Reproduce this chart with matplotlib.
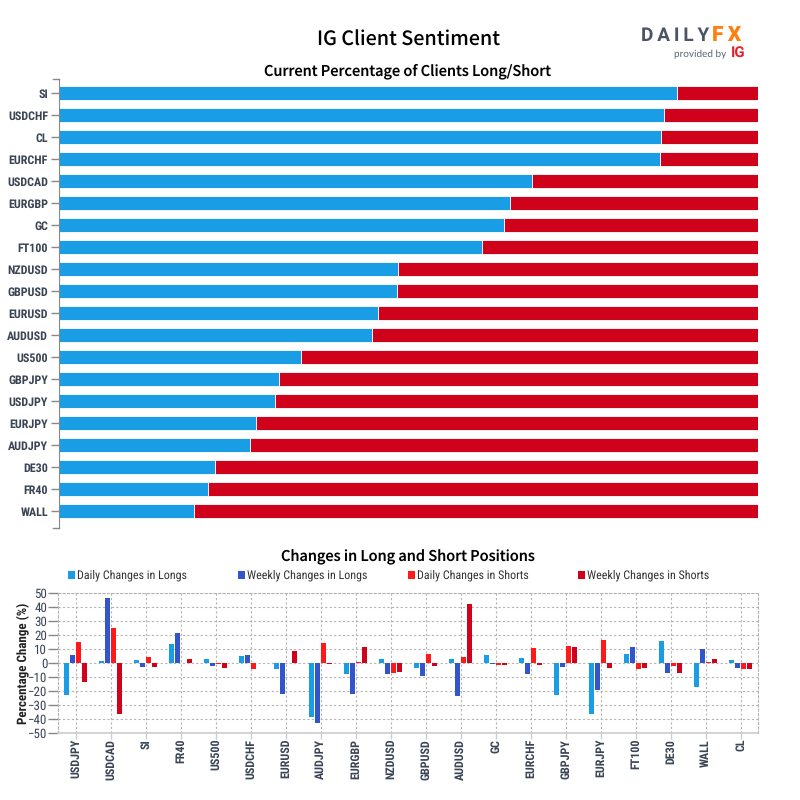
#!/usr/bin/env python3
import numpy as np
import matplotlib
matplotlib.use("Agg")
import matplotlib.pyplot as plt
from matplotlib.patches import Rectangle

# top chart, sorted the way it is drawn (top to bottom)
sent_labels = ["SI", "USDCHF", "CL", "EURCHF", "USDCAD", "EURGBP", "GC", "FT100", "NZDUSD", "GBPUSD",
               "EURUSD", "AUDUSD", "US500", "GBPJPY", "USDJPY", "EURJPY", "AUDJPY", "DE30", "FR40", "WALL"]
pct_long = [88.4, 86.6, 86.2, 86.0, 67.7, 64.6, 63.7, 60.6, 48.6, 48.4,
            45.7, 44.8, 34.7, 31.5, 31.0, 28.3, 27.4, 22.4, 21.4, 19.4]
pct_short = [11.6, 13.4, 13.8, 14.0, 32.3, 35.4, 36.3, 39.4, 51.4, 51.6,
             54.3, 55.2, 65.3, 68.5, 69.0, 71.7, 72.6, 77.6, 78.6, 80.6]

# bottom chart
chg_labels = ["USDJPY", "USDCAD", "SI", "FR40", "US500", "USDCHF", "EURUSD", "AUDJPY", "EURGBP", "NZDUSD",
              "GBPUSD", "AUDUSD", "GC", "EURCHF", "GBPJPY", "EURJPY", "FT100", "DE30", "WALL", "CL"]
daily_long = [-22.6, 1.5, 2.3, 13.7, 3.0, 5.2, -4.2, -38.2, -7.6, 3.0,
              -3.4, 3.0, 5.8, 3.7, -22.8, -36.3, 6.6, 15.8, -17.0, 2.2]
weekly_long = [6.0, 46.7, -2.7, 21.6, -2.0, 6.0, -22.0, -42.7, -22.0, -7.6,
               -9.2, -23.5, -0.6, -7.8, -2.7, -19.2, 11.5, -7.0, 10.0, -3.4]
daily_short = [15.2, 25.2, 4.5, 0.0, -0.7, -4.0, 0.0, 14.5, 0.8, -7.0,
               6.6, 4.4, -1.3, 10.8, 12.2, 16.5, -4.0, -1.9, 0.8, -4.0]
weekly_short = [-13.3, -36.3, -2.7, 3.0, -3.4, 0.0, 8.8, -0.6, 11.5, -6.2,
                -2.0, 42.2, -1.3, -1.2, 11.5, -3.4, -3.4, -7.0, 3.0, -4.0]

BLUE = "#199ee6"
DARKBLUE = "#3355cc"
RED = "#ff1a1a"
DARKRED = "#d0021b"
TEXT = "#3a4454"
NARROW = ["Roboto Condensed", "Roboto", "DejaVu Sans"]
TITLE = ["Noto Sans CJK JP", "DejaVu Sans"]

plt.rcParams["text.hinting"] = "no_hinting"
plt.rcParams["text.hinting_factor"] = 1

W, H = 800, 800
fig = plt.figure(figsize=(8, 8), dpi=100)


def px_axes(x0, y0, x1, y1):
    # axes from pixel box, y measured from the top
    return fig.add_axes([x0 / W, 1 - y1 / H, (x1 - x0) / W, (y1 - y0) / H])


def fx(x):
    return x / W


def fy(y):
    return 1 - y / H


fig.text(fx(409), fy(40), "IG Client Sentiment", ha="center", va="center",
         family=TITLE, fontsize=14.2, weight=500, color="black")

# logo
fig.text(fx(641), fy(35.5), "D\u2009A\u2009I\u2009L\u2009Y", ha="left", va="center", family=["Roboto", "DejaVu Sans"],
         fontsize=14, weight="bold", color="#4a5464")
fig.text(fx(712), fy(35.5), "F\u2009X", ha="left", va="center", family=["Roboto", "DejaVu Sans"], fontsize=15,
         weight=900, color="#ff7f0e")
fig.text(fx(674), fy(54), "provided by", ha="left", va="center", family=["Lato", "DejaVu Sans"], fontsize=7.5, color="#5a6470")
fig.text(fx(731), fy(53), "IG", ha="left", va="center", family=["Roboto", "DejaVu Sans"], fontsize=10.5, weight="bold", color="#e2202c")

# top chart
ax = px_axes(58.5, 78.7, 758, 528.3)
n = len(sent_labels)
y = np.arange(n)
ax.barh(y, pct_long, height=14 / 22, color=BLUE, edgecolor="white", linewidth=0.6)
ax.barh(y, pct_short, left=pct_long, height=14 / 22, color=DARKRED, edgecolor="white", linewidth=0.6)
ax.set_xlim(0, 100)
ax.set_ylim(19.77, -0.664)
ax.set_yticks(y)
ax.set_yticklabels(sent_labels, family=NARROW, fontsize=8.6, weight="bold", color=TEXT)
ax.tick_params(axis="y", length=6, width=1, color="#888888", pad=1.5)
ax.set_xticks([])
for s in ["top", "right", "bottom"]:
    ax.spines[s].set_visible(False)
ax.spines["left"].set_color("#888888")
# end caps of the category axis
ax.plot([-0.85, 0], [-0.664, -0.664], color="#888888", lw=1, clip_on=False)
ax.plot([-0.85, 0], [19.77, 19.77], color="#888888", lw=1, clip_on=False)
ax.set_xlim(0, 100)
fig.text(fx(408), fy(71.5), "Current Percentage of Clients Long/Short", ha="center", va="center",
         family=TITLE, fontsize=10.5, weight=500, color="black")

# bottom chart
ax2 = px_axes(58.3, 593.3, 758.3, 733.3)
x = np.arange(len(chg_labels))
step = 6 / 35
width = 5 / 35
shift = -0.6 / 35
series = [daily_long, weekly_long, daily_short, weekly_short]
colors = [BLUE, DARKBLUE, RED, DARKRED]
names = ["Daily Changes in Longs", "Weekly Changes in Longs", "Daily Changes in Shorts", "Weekly Changes in Shorts"]
for i, (vals, c) in enumerate(zip(series, colors)):
    ax2.bar(x + (i - 1.5) * step + shift, vals, width=width, color=c, zorder=3)
ax2.set_xlim(-0.5, len(chg_labels) - 0.5)
ax2.set_ylim(-50, 50)
ax2.set_yticks(np.arange(-50, 51, 10))
ax2.set_xticks(x)
ax2.set_xticklabels(chg_labels, rotation=90, family=NARROW, fontsize=8.6, weight="bold", color=TEXT)
ax2.tick_params(axis="x", length=4, width=1, color="#cccccc", pad=0)
ax2.tick_params(axis="y", length=7, width=1, color="#888888", pad=1, labelsize=9, labelcolor=TEXT)
for lab in ax2.get_yticklabels():
    lab.set_family(NARROW)
ax2.grid(True, color="#b4b4b4", linestyle=(0, (2, 2)), linewidth=0.8, zorder=0)
for s in ["top", "right", "left"]:
    ax2.spines[s].set_color("#b4b4b4")
    ax2.spines[s].set_linestyle((0, (2, 2)))
    ax2.spines[s].set_linewidth(0.8)
ax2.spines["bottom"].set_color("#cccccc")
ax2.spines["bottom"].set_linewidth(1.2)
fig.text(fx(23), fy(663), "Percentage Change (%)", rotation=90, ha="center", va="center",
         family=NARROW, fontsize=9.1, weight="bold", color="#222222")
fig.text(fx(408), fy(557), "Changes in Long and Short Positions", ha="center", va="center",
         family=TITLE, fontsize=10.5, weight=500, color="black")

# legend drawn by hand so the entries sit on even spacing
for i, (name, c) in enumerate(zip(names, colors)):
    lx = 68 + i * 170
    fig.add_artist(Rectangle((fx(lx), fy(579)), 7 / W, 8 / H, transform=fig.transFigure, color=c, lw=0))
    fig.text(fx(lx + 9), fy(575.5), name, ha="left", va="center", family=NARROW, fontsize=8.55, color="#333333")

fig.savefig("out.png", dpi=100)
